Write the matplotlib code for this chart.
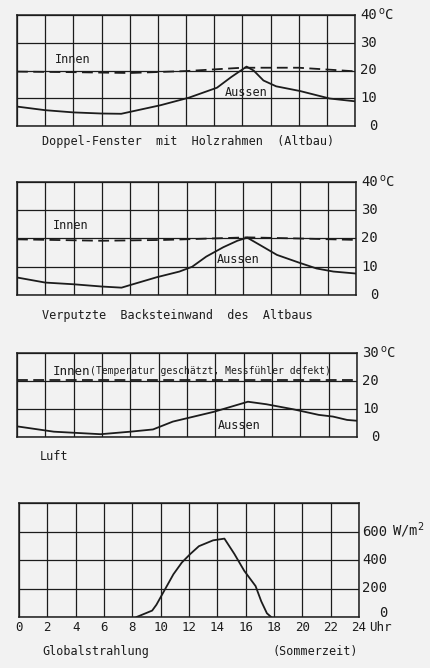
import matplotlib
matplotlib.use("Agg")
import matplotlib.pyplot as plt
from matplotlib.transforms import blended_transform_factory

plt.rcParams['font.family'] = ['DejaVu Sans Mono']

hour_ticks = list(range(0, 25, 2))

# Doppel-Fenster mit Holzrahmen
fenster_aussen_h = [0, 2, 4, 6, 7.4, 10.2, 12.2, 14.2, 15.2, 16.3, 16.8, 17.5, 18.4, 20.1, 22.2, 24]
fenster_aussen_t = [7.0, 5.7, 4.9, 4.5, 4.4, 7.5, 10.2, 13.8, 17.6, 21.4, 20.0, 16.4, 14.3, 12.6, 9.9, 8.9]
fenster_innen_h = [0, 4, 8, 12, 16, 20, 22.5, 24]
fenster_innen_t = [19.6, 19.4, 19.1, 19.8, 21.0, 21.0, 20.2, 19.7]

# Verputzte Backsteinwand
wand_aussen_h = [0, 2, 4, 6, 7.4, 8.0, 9.9, 11.5, 12.4, 13.4, 14.6, 15.6, 16.3, 17.2, 18.4, 20.0, 21.2, 22.4, 24]
wand_aussen_t = [6.2, 4.4, 3.8, 3.0, 2.6, 3.5, 6.3, 8.3, 10.0, 13.6, 16.9, 19.2, 20.3, 17.7, 14.2, 11.4, 9.4, 8.3, 7.6]
wand_innen_h = [0, 6, 10.5, 16.3, 20, 24]
wand_innen_t = [19.7, 19.2, 19.5, 20.4, 20.0, 19.5]

# Luft
luft_aussen_h = [0, 2.6, 5.9, 8.0, 9.6, 11.0, 13.9, 16.3, 17.6, 19.5, 21.3, 22.3, 23.3, 24]
luft_aussen_t = [3.8, 1.9, 1.0, 1.9, 2.7, 5.5, 9.0, 12.6, 11.7, 9.9, 7.9, 7.3, 6.1, 5.8]
luft_innen_h = [0, 12, 24]
luft_innen_t = [20.2, 20.2, 20.2]

# Globalstrahlung
strahlung_h = [8.3, 9.4, 9.7, 10.3, 10.9, 11.5, 12.1, 12.7, 13.7, 14.5, 15.2, 15.9, 16.7, 17.1, 17.5, 17.8]
strahlung_w = [0, 45, 86, 193, 300, 383, 443, 497, 538, 550, 443, 324, 217, 110, 26, 0]

W, H = 430, 668
ink = '#1c1c1c'

fig = plt.figure(figsize=(W / 100, H / 100), dpi=100)
fig.patch.set_facecolor('#f2f2f2')


def make_panel(x0, x1, y0, y1, ymax, ystep):
    ax = fig.add_axes([x0 / W, 1 - y1 / H, (x1 - x0) / W, (y1 - y0) / H])
    ax.set_xlim(0, 24)
    ax.set_ylim(0, ymax)
    ax.set_xticks(hour_ticks)
    ax.set_yticks(range(0, ymax + 1, ystep))
    ax.grid(True, color=ink, lw=0.9)
    ax.tick_params(length=0, labelbottom=False, labelleft=False)
    ax.set_facecolor('none')
    for s in ax.spines.values():
        s.set_linewidth(1.1)
        s.set_color(ink)
    return ax


def right_labels(ax, ticks, dx, unit, size=10):
    tr = blended_transform_factory(ax.transAxes, ax.transData)
    for v in ticks:
        ax.annotate(str(v), xy=(1, v), xycoords=tr, xytext=(dx, 0), textcoords='offset points',
                    ha='right', va='center', fontsize=size, color=ink)
    ax.annotate(unit, xy=(1, ticks[-1]), xycoords=tr, xytext=(dx + 0.5, 0), textcoords='offset points',
                ha='left', va='center', fontsize=size, color=ink)


def temp_lines(ax, ah, at, ih, it):
    ax.plot(ah, at, color=ink, lw=1.3)
    ax.plot(ih, it, color=ink, lw=1.3, dashes=(6, 3))


# Panel 1
ax1 = make_panel(17, 355, 15, 126, 40, 10)
temp_lines(ax1, fenster_aussen_h, fenster_aussen_t, fenster_innen_h, fenster_innen_t)
right_labels(ax1, [0, 10, 20, 30, 40], 16, r'$^{\mathrm{o}}$C')
ax1.text(0.112, 0.60, 'Innen', transform=ax1.transAxes, fontsize=8.5, color=ink, va='center')
ax1.text(0.615, 0.30, 'Aussen', transform=ax1.transAxes, fontsize=8.5, color=ink, va='center')
fig.text(42 / W, 1 - 142 / H, 'Doppel-Fenster  mit  Holzrahmen  (Altbau)', fontsize=8.5, color=ink, va='center')

# Panel 2
ax2 = make_panel(17, 356, 182, 295, 40, 10)
temp_lines(ax2, wand_aussen_h, wand_aussen_t, wand_innen_h, wand_innen_t)
right_labels(ax2, [0, 10, 20, 30, 40], 16, r'$^{\mathrm{o}}$C')
ax2.text(0.106, 0.615, 'Innen', transform=ax2.transAxes, fontsize=8.5, color=ink, va='center')
ax2.text(0.59, 0.31, 'Aussen', transform=ax2.transAxes, fontsize=8.5, color=ink, va='center')
fig.text(42 / W, 1 - 315 / H, 'Verputzte  Backsteinwand  des  Altbaus', fontsize=8.5, color=ink, va='center')

# Panel 3
ax3 = make_panel(17, 357, 353, 437, 30, 10)
temp_lines(ax3, luft_aussen_h, luft_aussen_t, luft_innen_h, luft_innen_t)
right_labels(ax3, [0, 10, 20, 30], 16, r'$^{\mathrm{o}}$C')
ax3.text(0.106, 0.78, 'Innen', transform=ax3.transAxes, fontsize=9, color=ink, va='center')
ax3.text(0.215, 0.78, '(Temperatur geschätzt, Messfühler defekt)', transform=ax3.transAxes,
         fontsize=7, color=ink, va='center')
ax3.text(0.59, 0.14, 'Aussen', transform=ax3.transAxes, fontsize=8.5, color=ink, va='center')
fig.text(40 / W, 1 - 457 / H, 'Luft', fontsize=8.5, color=ink, va='center')

# Panel 4
ax4 = make_panel(19, 359, 503, 617, 800, 200)
ax4.plot(strahlung_h, strahlung_w, color=ink, lw=1.3)
ax4.tick_params(labelbottom=True, pad=3, labelsize=9, labelcolor=ink)
ax4.set_xticklabels([str(h) for h in hour_ticks])
tr4 = blended_transform_factory(ax4.transAxes, ax4.transData)
for v in [0, 200, 400, 600]:
    ax4.annotate(str(v), xy=(1, v), xycoords=tr4, xytext=(20.5, 3 if v == 0 else 0),
                 textcoords='offset points', ha='right', va='center', fontsize=10, color=ink)
ax4.annotate(r'W/m$^{2}$', xy=(1, 600), xycoords=tr4, xytext=(24, 1), textcoords='offset points',
             ha='left', va='center', fontsize=10, color=ink)
ax4.annotate('Uhr', xy=(1, 0), xycoords='axes fraction', xytext=(7, -7.5), textcoords='offset points',
             ha='left', va='center', fontsize=9, color=ink)
fig.text(42 / W, 1 - 652 / H, 'Globalstrahlung', fontsize=8.5, color=ink, va='center')
fig.text(358 / W, 1 - 652 / H, '(Sommerzeit)', fontsize=8.5, color=ink, va='center', ha='right')

fig.savefig('out.png', dpi=100, facecolor=fig.get_facecolor())
